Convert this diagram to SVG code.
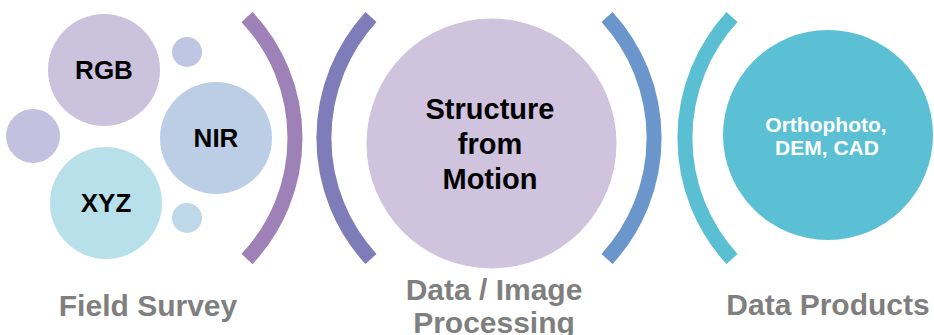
<svg xmlns="http://www.w3.org/2000/svg" width="934" height="335" viewBox="0 0 934 335">
<style>
.lbl{font-family:"Liberation Sans",Arial,sans-serif;font-weight:bold;text-anchor:middle;fill:#000}
.cap{font-family:"Liberation Sans",Arial,sans-serif;font-weight:bold;text-anchor:middle;fill:#7f7f7f;font-size:30px}
.arc{fill:none;stroke-width:15;stroke-linecap:butt}
</style>
<rect width="934" height="335" fill="#fff"/>
<g id="rgb"><circle cx="104" cy="70" r="56" fill="#cbc3de"/><text class="lbl" x="104" y="79" font-size="26">RGB</text></g>
<g id="dot-top"><circle cx="187" cy="52" r="15" fill="#bfc6e3"/></g>
<g id="dot-left"><circle cx="33" cy="136" r="27" fill="#c3c1df"/></g>
<g id="nir"><circle cx="216" cy="138" r="56" fill="#bccde6"/><text class="lbl" x="216" y="147" font-size="26">NIR</text></g>
<g id="xyz"><circle cx="106" cy="203" r="56" fill="#b8e0ea"/><text class="lbl" x="106" y="212" font-size="26">XYZ</text></g>
<g id="dot-bottom"><circle cx="187" cy="218" r="15" fill="#bed8ea"/></g>
<g id="sfm"><circle cx="491.5" cy="143.5" r="125" fill="#cfc3de"/>
<text class="lbl" font-size="29"><tspan x="490" y="119">Structure</tspan><tspan x="490" y="154">from</tspan><tspan x="490" y="189">Motion</tspan></text></g>
<g id="products"><circle cx="828" cy="135" r="105" fill="#5bc0d4"/>
<text class="lbl" font-size="21" style="fill:#fff"><tspan x="826" y="132">Orthophoto,</tspan><tspan x="827" y="155">DEM, CAD</tspan></text></g>
<g id="connectors">
<path class="arc" stroke="#9e82b7" d="M247,17 A176.5,176.5 0 0 1 247,259"/>
<path class="arc" stroke="#7f7cba" d="M371,17 A179,179 0 0 0 371,259"/>
<path class="arc" stroke="#6a96cb" d="M607,17 A179,179 0 0 1 607,259"/>
<path class="arc" stroke="#5bbfd4" d="M732,17 A179,179 0 0 0 732,259"/>
</g>
<g id="captions">
<text class="cap" x="148" y="316">Field Survey</text>
<text class="cap"><tspan x="494" y="300">Data / Image</tspan><tspan x="494" y="333">Processing</tspan></text>
<text class="cap" x="828" y="315">Data Products</text>
</g>
</svg>
